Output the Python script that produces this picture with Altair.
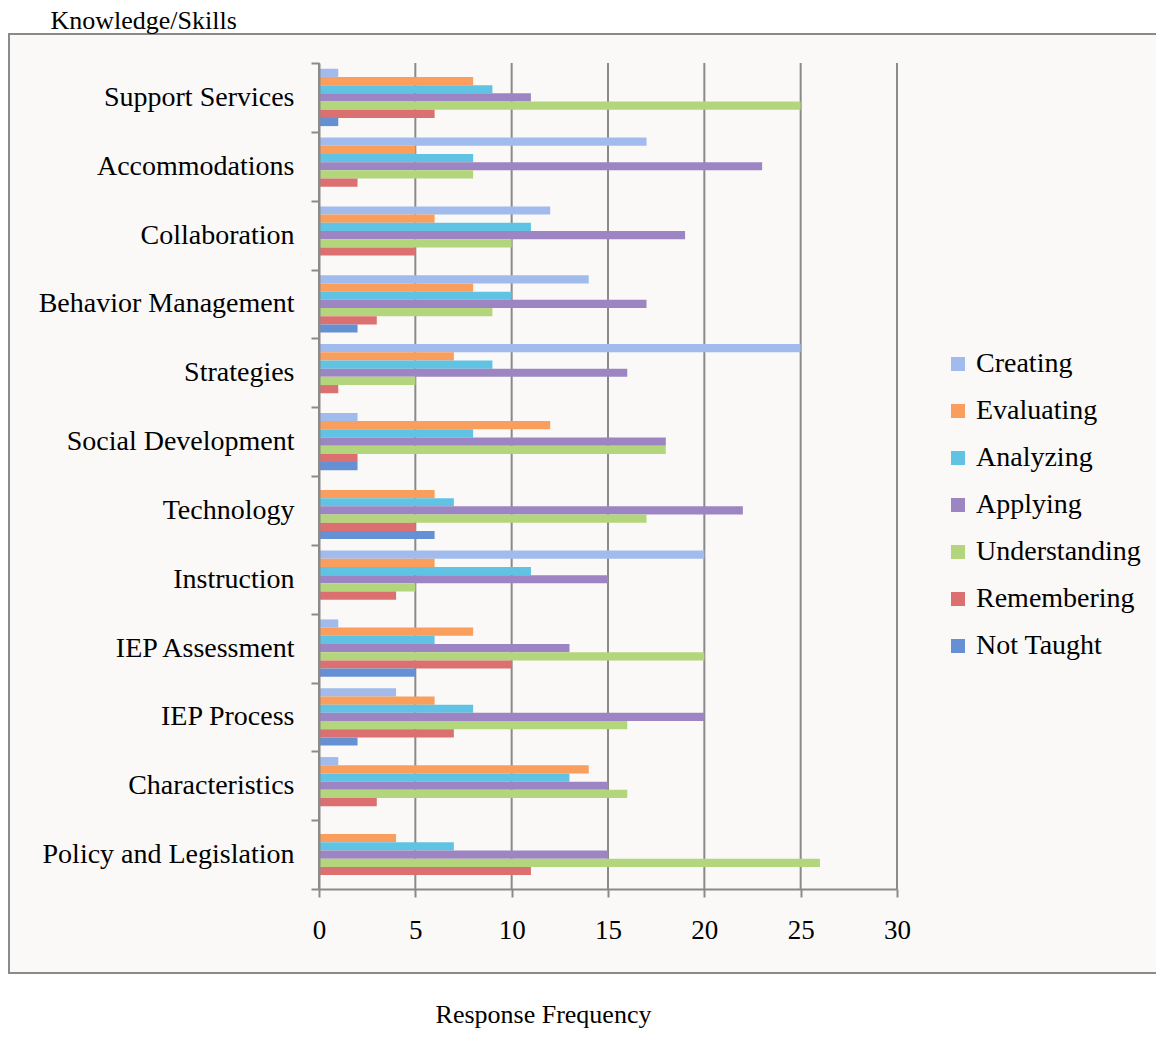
import altair as alt
import pandas as pd

categories = ["Support Services", "Accommodations", "Collaboration", "Behavior Management",
              "Strategies", "Social Development", "Technology", "Instruction",
              "IEP Assessment", "IEP Process", "Characteristics", "Policy and Legislation"]
levels = ["Creating", "Evaluating", "Analyzing", "Applying", "Understanding", "Remembering", "Not Taught"]

creating = [1, 17, 12, 14, 25, 2, 0, 20, 1, 4, 1, 0]
evaluating = [8, 5, 6, 8, 7, 12, 6, 6, 8, 6, 14, 4]
analyzing = [9, 8, 11, 10, 9, 8, 7, 11, 6, 8, 13, 7]
applying = [11, 23, 19, 17, 16, 18, 22, 15, 13, 20, 15, 15]
understanding = [25, 8, 10, 9, 5, 18, 17, 5, 20, 16, 16, 26]
remembering = [6, 2, 5, 3, 1, 2, 5, 4, 10, 7, 3, 11]
not_taught = [1, 0, 0, 2, 0, 2, 6, 0, 5, 2, 0, 0]

x_ticks = [0, 5, 10, 15, 20, 25, 30]
colors = ["#A0BBEC", "#F99E5C", "#60C3E3", "#9C85C2", "#B3D67D", "#DC7070", "#6590D4"]

series = [creating, evaluating, analyzing, applying, understanding, remembering, not_taught]
rows = []
for lvl, vals in zip(levels, series):
    for cat, v in zip(categories, vals):
        rows.append({"category": cat, "level": lvl, "value": v})
df = pd.DataFrame(rows)

FONT = "Liberation Serif"
GRAY = "#8A8A8A"

x_enc = alt.X(
    "value:Q",
    scale=alt.Scale(domain=[0, 30], nice=False),
    axis=alt.Axis(
        values=x_ticks, title="Response Frequency", titleX=224, titleY=133,
        titleAlign="center", titleBaseline="alphabetic", titleFont=FONT,
        titleFontSize=26, titleFontWeight="normal", titleColor="black",
        labelFont=FONT, labelFontSize=27, labelColor="black", labelPadding=20,
        labelFlush=False,
        tickSize=8, tickColor=GRAY, tickWidth=2, domainColor=GRAY, domainWidth=2,
        grid=False, zindex=1,
    ),
)

box = alt.Chart(pd.DataFrame({"k": [0]})).mark_rect(
    fill="#FAF9F7", stroke=GRAY, strokeWidth=2
).encode(
    x=alt.value(-310), x2=alt.value(847), y=alt.value(-29), y2=alt.value(910)
)

grid = alt.Chart(pd.DataFrame({"value": x_ticks})).mark_rule(
    color=GRAY, strokeWidth=2
).encode(x=x_enc)

bars = alt.Chart(df).mark_bar().encode(
    x=x_enc,
    y=alt.Y(
        "category:N", sort=categories,
        scale=alt.Scale(paddingInner=0, paddingOuter=0),
        axis=alt.Axis(
            title="Knowledge/Skills", titleAngle=0, titleAlign="left",
            titleBaseline="alphabetic", titleX=-269, titleY=-35, titleFont=FONT,
            titleFontSize=26, titleFontWeight="normal", titleColor="black",
            labelFont=FONT, labelFontSize=28, labelColor="black", labelPadding=17,
            labelLimit=400, tickSize=8, tickColor=GRAY, tickWidth=2,
            domainColor=GRAY, domainWidth=2, tickBand="extent", grid=False, zindex=1,
        ),
    ),
    yOffset=alt.YOffset(
        "level:N", sort=levels,
        scale=alt.Scale(paddingInner=0, paddingOuter=0.7),
    ),
    color=alt.Color(
        "level:N", sort=levels,
        scale=alt.Scale(domain=levels, range=colors),
        legend=alt.Legend(
            orient="none", legendX=625, legendY=287, title=None,
            symbolType="square", symbolSize=196, symbolStrokeWidth=0,
            labelFont=FONT, labelFontSize=28, labelColor="black", labelLimit=400,
            rowPadding=19, labelOffset=4, padding=0,
        ),
    ),
)

chart = alt.layer(box, grid, bars).properties(
    width=578, height=826,
    autosize=alt.AutoSizeParams(type="none"),
    padding={"left": 311, "top": 55, "right": 259, "bottom": 140},
    background="white",
).configure_view(stroke="transparent")

chart.save("out.html", embed_options={"renderer": "svg", "actions": False})
